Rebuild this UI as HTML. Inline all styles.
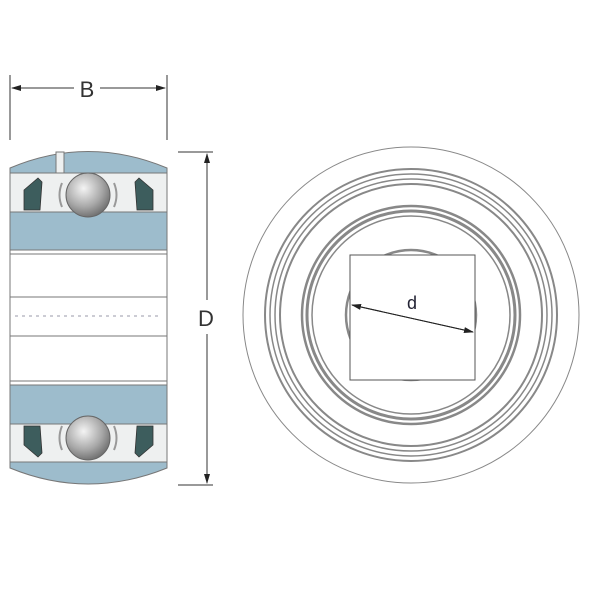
<!DOCTYPE html>
<html><head><style>body{margin:0;background:#fff}svg{display:block}</style></head><body>
<svg width="600" height="600" viewBox="0 0 600 600" xmlns="http://www.w3.org/2000/svg" font-family="Liberation Sans, sans-serif">
<defs>
<radialGradient id="ball" cx="0.4" cy="0.35" r="0.7"><stop offset="0" stop-color="#f4f4f4"/><stop offset="0.6" stop-color="#a8a8a8"/><stop offset="1" stop-color="#6a6a6a"/></radialGradient>
<marker id="ah" markerWidth="10" markerHeight="6" refX="9" refY="3" orient="auto"><path d="M0,0L10,3L0,6z" fill="#222"/></marker>
</defs>
<g stroke="#333" stroke-width="1" fill="none">
<line x1="10" y1="75" x2="10" y2="140"/><line x1="167" y1="75" x2="167" y2="140"/>
<line x1="74" y1="88" x2="12" y2="88" marker-end="url(#ah)"/>
<line x1="100" y1="88" x2="165" y2="88" marker-end="url(#ah)"/>
<line x1="178" y1="152" x2="213" y2="152"/><line x1="178" y1="485" x2="213" y2="485"/>
<line x1="207" y1="300" x2="207" y2="154" marker-end="url(#ah)"/>
<line x1="207" y1="334" x2="207" y2="483" marker-end="url(#ah)"/>
</g>
<text x="87" y="97" font-size="22" text-anchor="middle" fill="#333">B</text>
<text x="206" y="326" font-size="22" text-anchor="middle" fill="#333">D</text>
<g stroke="#777" stroke-width="1">
<path d="M10,168 Q88,135 167,168 L167,250 L10,250Z" fill="#9dbccc"/>
<rect x="10" y="173" width="157" height="39" fill="#eef0f0"/>
<rect x="56" y="152" width="8" height="21" fill="#eef0f0"/>
<path d="M10,468 Q88,500 167,468 L167,385 L10,385Z" fill="#9dbccc"/>
<rect x="10" y="424" width="157" height="38" fill="#eef0f0"/>
<rect x="10" y="250" width="157" height="135" fill="#fff"/>
<line x1="10" y1="297" x2="167" y2="297"/><line x1="10" y1="336" x2="167" y2="336"/>
<line x1="10" y1="254" x2="167" y2="254"/><line x1="10" y1="381" x2="167" y2="381"/>
</g>
<line x1="15" y1="316" x2="160" y2="316" stroke="#99a" stroke-dasharray="3,4"/>
<g fill="#3d5d5d" stroke="#333" stroke-width="0.8">
<path d="M24,190 L38,178 L42,182 L40,210 L24,210Z"/><path d="M153,190 L139,178 L135,182 L137,210 L153,210Z"/>
<path d="M24,445 L38,457 L42,453 L40,426 L24,426Z"/><path d="M153,445 L139,457 L135,453 L137,426 L153,426Z"/>
</g>
<g stroke="#999" fill="none" stroke-width="2"><path d="M62,183 Q57,195 62,207"/><path d="M114,183 Q119,195 114,207"/><path d="M62,426 Q57,438 62,450"/><path d="M114,426 Q119,438 114,450"/></g>
<circle cx="88" cy="195" r="22" fill="url(#ball)" stroke="#666"/>
<circle cx="88" cy="438" r="22" fill="url(#ball)" stroke="#666"/>
<g fill="none" stroke="#888">
<circle cx="411" cy="315" r="168" stroke-width="1"/>
<circle cx="411" cy="315" r="146" stroke-width="2"/>
<circle cx="411" cy="315" r="141" stroke-width="1.5"/>
<circle cx="411" cy="315" r="136" stroke-width="1.5"/>
<circle cx="411" cy="315" r="131" stroke-width="2"/>
<circle cx="411" cy="315" r="109" stroke-width="2.5"/>
<circle cx="411" cy="315" r="104" stroke-width="3"/>
<circle cx="411" cy="315" r="99" stroke-width="1.5"/>
<circle cx="411" cy="315" r="65" stroke-width="2.5"/>
</g>
<rect x="350" y="255" width="125" height="125" fill="#fff" stroke="#555"/>
<line x1="352" y1="305" x2="473" y2="332" stroke="#222" marker-end="url(#ah)"/>
<line x1="473" y1="332" x2="352" y2="305" stroke="#222" marker-end="url(#ah)"/>
<text x="412" y="309" font-size="18" text-anchor="middle" fill="#223">d</text>
</svg>
</body></html>
